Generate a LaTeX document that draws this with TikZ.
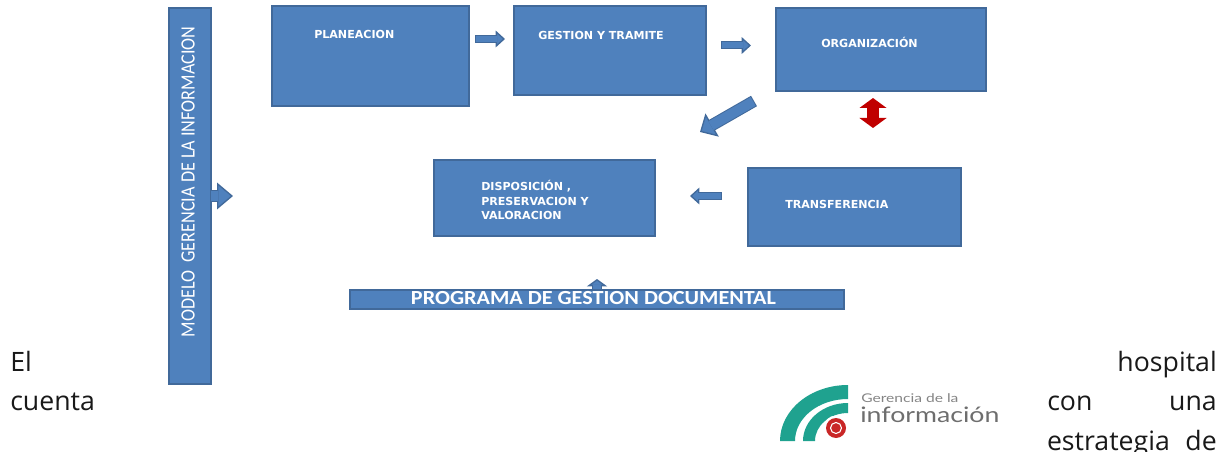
\documentclass[tikz,border=0pt]{standalone}
\usepackage{fontspec}
\setmainfont{Open Sans}
\newfontfamily\carl{Carlito}
\newfontfamily\wide{DejaVu Sans}
\newfontfamily\logof{Lato}
\usetikzlibrary{arrows.meta}
\definecolor{bfill}{HTML}{4F81BD}
\definecolor{bline}{HTML}{41699A}
\definecolor{tealc}{HTML}{1FA28F}
\definecolor{redc}{HTML}{C00000}
\definecolor{grayt}{HTML}{6E6E6E}
\tikzset{
  x=0.75pt,y=-0.75pt,
  bx/.style={draw=bline,fill=bfill,line width=1.5pt},
  lab/.style={text=white,font=\wide\bfseries\fontsize{8.3}{10.6}\selectfont,inner sep=0,anchor=west,align=left},
  body/.style={inner sep=0,anchor=base,font=\fontsize{20}{24}\selectfont,text=black!90},
}
\newcommand{\pxbox}[5]{\path[bx] (#2,#3) rectangle (#4,#5) node[midway,inner sep=0,minimum size=0] (#1) {};}
% block arrow from coordinate #1 to coordinate #2: shaft #3, head length #4, head width #5 (pt)
\newcommand{\barrow}[5]{%
  \draw[line width=#3,draw=bline,-{Triangle[length=#4,width=#5,fill=bfill,color=bline,line width=1pt]}] (#1) -- (#2);
  \draw[line width=#3-1.5pt,draw=bfill,shorten >=#4-1pt,shorten <=.75pt] (#1) -- (#2);}
\begin{document}
\begin{tikzpicture}
\useasboundingbox (0,0) rectangle (1228,452);
\clip (0,0) rectangle (1228,452);
% boxes
\pxbox{model}{169}{8}{211}{384}
\pxbox{plan}{272}{6}{469}{106}
\pxbox{gest}{514}{6}{706}{95}
\pxbox{orga}{776}{8}{986}{91}
\pxbox{disp}{434}{160}{655}{236}
\pxbox{tran}{748}{168}{961}{246}
% coordinates for the block arrows
\coordinate (s0) at (210,196); \coordinate (e0) at (233,196);
\coordinate (s1) at (475,39);  \coordinate (e1) at (505,39);
\coordinate (s2) at (721,45.5);  \coordinate (e2) at (751,45.5);
\coordinate (s3) at (754,101); \coordinate (e3) at (700,132);
\coordinate (s4) at (722,196); \coordinate (e4) at (690,196);
\coordinate (s5) at (597,291); \coordinate (e5) at (597,279);
\coordinate (s6) at (873,98);  \coordinate (e6) at (873,128);
\barrow{s5}{e5}{7.5pt}{5.5pt}{15pt}
\pxbox{prog}{350}{290}{844}{309}
\barrow{s0}{e0}{9pt}{12pt}{20pt}
\barrow{s1}{e1}{6pt}{7pt}{12.5pt}
\barrow{s2}{e2}{6pt}{7pt}{12.5pt}
\barrow{s3}{e3}{9pt}{10.5pt}{20pt}
\barrow{s4}{e4}{6pt}{7pt}{12.5pt}
\draw[line width=9pt,draw=redc,{Triangle[length=7.5pt,width=20pt]}-{Triangle[length=7.5pt,width=20pt]}] (s6) -- (e6);
% labels
\node[text=white,rotate=90,inner sep=0,font=\carl\fontsize{15.2}{18}\selectfont] (tmodel) at (188,182) {\scalebox{.895}[1]{MODELO\ \ GERENCIA DE LA INFORMACION}};
\node[lab] (tplan) at (314,34) {PLANEACION};
\node[lab] (tgest) at (538,35) {GESTION Y TRAMITE};
\node[lab] (torga) at (821,42) {ORGANIZACIÓN};
\node[lab] (tdisp) at (481,200) {DISPOSICIÓN ,\\PRESERVACION Y\\VALORACION};
\node[lab] (ttran) at (785,204) {TRANSFERENCIA};
\node[text=white,inner sep=0,font=\carl\bfseries\fontsize{15}{18}\selectfont] (tprog) at (593.5,298) {\scalebox{1.108}[1]{PROGRAMA DE GESTION DOCUMENTAL}};
% body text
\node[body,anchor=base west] (b1) at (10,371) {El};
\node[body,anchor=base east] (b2) at (1217,371) {hospital};
\node[body,anchor=base west] (b3) at (10,410) {cuenta};
\node[body,anchor=base west] (b4) at (1047,410) {con};
\node[body,anchor=base east] (b5) at (1217,410) {una};
\node[body,anchor=base east] (b6) at (1217,450) {estrategia\hspace{6.5pt} de};
% logo
\fill[tealc] (848,385) arc[start angle=-90,end angle=-180,x radius=68,y radius=56] -- (795,441) arc[start angle=-180,end angle=-90,x radius=53,y radius=42] -- cycle;
\fill[tealc] (848,403) arc[start angle=-90,end angle=-180,x radius=45,y radius=38] -- (815,441) arc[start angle=-180,end angle=-90,x radius=33,y radius=28] -- cycle;
\fill[white] (836,428) circle[radius=12.5];
\fill[redc!85!white] (836,428) circle[radius=10];
\draw[white,line width=.8pt] (836,428) circle[radius=5.5];
\node[inner sep=0,anchor=base west,text=grayt!85!white,font=\logof\fontsize{9}{11}\selectfont] (lg1) at (861,402) {\scalebox{1.3}[1]{Gerencia de la}};
\node[inner sep=0,anchor=base west,text=grayt,font=\logof\fontsize{16}{19}\selectfont] (lg2) at (860,422) {\scalebox{1.25}[1]{información}};
\end{tikzpicture}
\end{document}
